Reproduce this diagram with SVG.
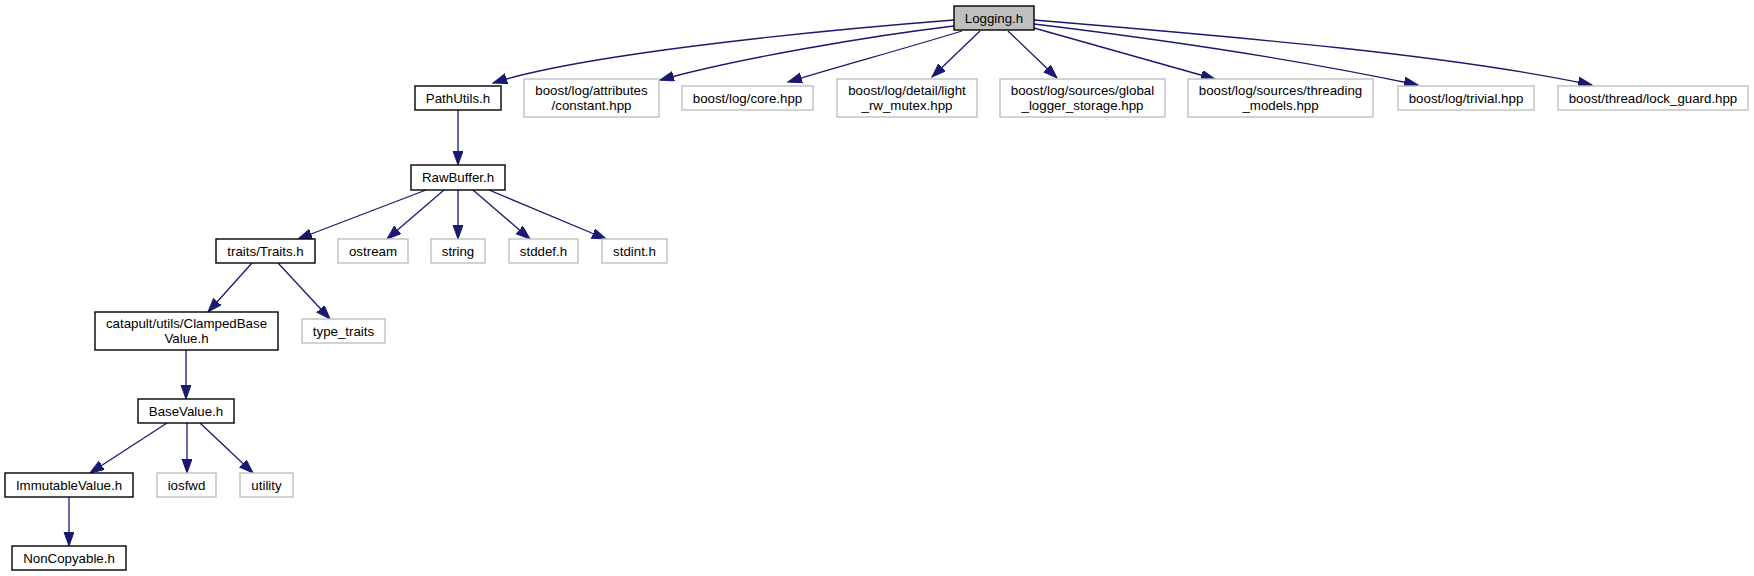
<svg xmlns="http://www.w3.org/2000/svg" width="1754" height="576" viewBox="0 0 1754 576">
<defs>
<marker id="ah" markerUnits="userSpaceOnUse" markerWidth="16" markerHeight="12" refX="14" refY="5" orient="auto">
<path d="M0,0 L14,5 L0,10 z" fill="#191970" stroke="#191970" stroke-width="1"/>
</marker>
</defs>
<style>
.n rect{fill:#ffffff;stroke:#000000;stroke-width:1.4}
.s rect{fill:#ffffff;stroke:#bfbfbf;stroke-width:1.4}
.root rect{fill:#bfbfbf;stroke:#000000;stroke-width:1.4}
text{font-family:"Liberation Sans",Arial,Helvetica,sans-serif;font-size:13.3px;fill:#000000;text-anchor:middle}
#edges path{fill:none;stroke:#191970;stroke-width:1.3;marker-end:url(#ah)}
</style>
<rect width="1754" height="576" fill="#ffffff"/>
<g id="edges">
<path d="M954,20 C800,32 580,55 493,83"/>
<path d="M954,26 C870,36 740,58 660,80"/>
<path d="M962,31 C900,50 840,66 788,82"/>
<path d="M980,31 L932,77"/>
<path d="M1008,31 L1057,78"/>
<path d="M1034,28 L1215,79"/>
<path d="M1034,24 C1150,38 1300,60 1418,85"/>
<path d="M1034,20 C1250,38 1450,55 1592,85"/>
<path d="M458,110 L458,165"/>
<path d="M426,190 L298,239"/>
<path d="M444,190 L387,239"/>
<path d="M458,190 L458,239"/>
<path d="M473,190 L530,239"/>
<path d="M489,190 L606,239"/>
<path d="M252,263 L208,312"/>
<path d="M278,263 L330,319"/>
<path d="M186,350 L186,399"/>
<path d="M167,423 L90,473"/>
<path d="M187,423 L187,473"/>
<path d="M200,423 L253,473"/>
<path d="M69,497 L69,546"/>
</g>
<g id="n_logging" class="root"><rect x="954" y="6" width="80" height="24"/><text x="994" y="22.5">Logging.h</text></g>
<g id="n_pathutils" class="n"><rect x="415" y="86" width="86" height="24"/><text x="458" y="102.5">PathUtils.h</text></g>
<g id="n_constant" class="s"><rect x="524" y="79" width="135" height="38"/><text x="591.5" y="95">boost/log/attributes</text><text x="591.5" y="110">/constant.hpp</text></g>
<g id="n_core" class="s"><rect x="682" y="86" width="131" height="24"/><text x="747.5" y="102.5">boost/log/core.hpp</text></g>
<g id="n_lightrw" class="s"><rect x="837" y="79" width="140" height="38"/><text x="907" y="95">boost/log/detail/light</text><text x="907" y="110">_rw_mutex.hpp</text></g>
<g id="n_global" class="s"><rect x="1000" y="79" width="165" height="38"/><text x="1082.5" y="95">boost/log/sources/global</text><text x="1082.5" y="110">_logger_storage.hpp</text></g>
<g id="n_threading" class="s"><rect x="1188" y="79" width="185" height="38"/><text x="1280.5" y="95">boost/log/sources/threading</text><text x="1280.5" y="110">_models.hpp</text></g>
<g id="n_trivial" class="s"><rect x="1398" y="86" width="136" height="24"/><text x="1466" y="102.5">boost/log/trivial.hpp</text></g>
<g id="n_lockguard" class="s"><rect x="1558" y="86" width="190" height="24"/><text x="1653" y="102.5">boost/thread/lock_guard.hpp</text></g>
<g id="n_rawbuffer" class="n"><rect x="411" y="165" width="94" height="25"/><text x="458" y="182">RawBuffer.h</text></g>
<g id="n_traits" class="n"><rect x="216" y="239" width="99" height="24"/><text x="265.5" y="255.5">traits/Traits.h</text></g>
<g id="n_ostream" class="s"><rect x="338" y="239" width="70" height="24"/><text x="373" y="255.5">ostream</text></g>
<g id="n_string" class="s"><rect x="431" y="239" width="54" height="24"/><text x="458" y="255.5">string</text></g>
<g id="n_stddef" class="s"><rect x="509" y="239" width="69" height="24"/><text x="543.5" y="255.5">stddef.h</text></g>
<g id="n_stdint" class="s"><rect x="602" y="239" width="65" height="24"/><text x="634.5" y="255.5">stdint.h</text></g>
<g id="n_clamped" class="n"><rect x="95" y="312" width="183" height="38"/><text x="186.5" y="328">catapult/utils/ClampedBase</text><text x="186.5" y="343">Value.h</text></g>
<g id="n_typetraits" class="s"><rect x="302" y="319" width="83" height="24"/><text x="343.5" y="335.5">type_traits</text></g>
<g id="n_basevalue" class="n"><rect x="138" y="399" width="96" height="24"/><text x="186" y="415.5">BaseValue.h</text></g>
<g id="n_immutable" class="n"><rect x="5" y="473" width="128" height="24"/><text x="69" y="489.5">ImmutableValue.h</text></g>
<g id="n_iosfwd" class="s"><rect x="157" y="473" width="59" height="24"/><text x="186.5" y="489.5">iosfwd</text></g>
<g id="n_utility" class="s"><rect x="240" y="473" width="53" height="24"/><text x="266.5" y="489.5">utility</text></g>
<g id="n_noncopyable" class="n"><rect x="12" y="546" width="114" height="24"/><text x="69" y="562.5">NonCopyable.h</text></g>
</svg>
